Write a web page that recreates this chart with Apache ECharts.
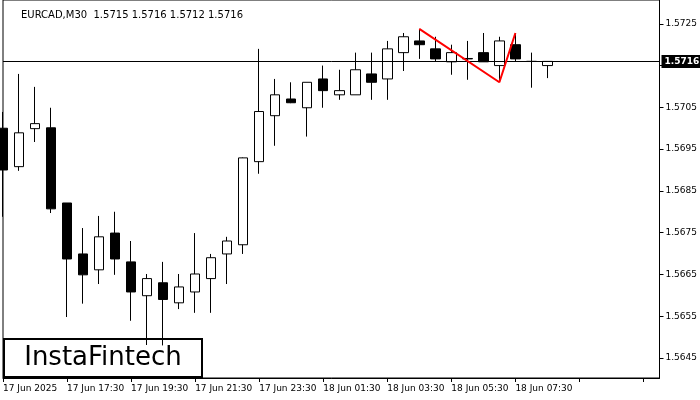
<!DOCTYPE html>
<html><head><meta charset="utf-8">
<script src="https://cdn.jsdelivr.net/npm/echarts@6/dist/echarts.min.js"></script>
<style>html,body{margin:0;padding:0;background:#fff}#c{width:700px;height:400px}</style>
</head><body><div id="c"></div>
<script>
const times = ['17 Jun 2025','16:00','16:30','17:00','17 Jun 17:30','18:00','18:30','19:00','17 Jun 19:30','20:00','20:30','21:00','17 Jun 21:30','22:00','22:30','23:00','17 Jun 23:30','00:00','00:30','01:00','18 Jun 01:30','02:00','02:30','03:00','18 Jun 03:30','04:00','04:30','05:00','18 Jun 05:30','06:00','06:30','07:00','18 Jun 07:30','08:00','08:30','09:00','09:30','10:00','10:30','11:00','11:30','12:00'];
// [open, close, low, high]
const ohlc = [
[1.57000,1.56900,1.56788,1.57039],
[1.56908,1.56989,1.56898,1.57130],
[1.56999,1.57011,1.56967,1.57099],
[1.57001,1.56807,1.56797,1.57049],
[1.56821,1.56687,1.56548,1.56821],
[1.56699,1.56649,1.56580,1.56761],
[1.56661,1.56740,1.56627,1.56790],
[1.56749,1.56687,1.56649,1.56800],
[1.56680,1.56608,1.56539,1.56730],
[1.56599,1.56640,1.56481,1.56651],
[1.56630,1.56590,1.56480,1.56680],
[1.56582,1.56620,1.56567,1.56651],
[1.56608,1.56651,1.56558,1.56749],
[1.56640,1.56690,1.56558,1.56699],
[1.56699,1.56730,1.56627,1.56740],
[1.56721,1.56929,1.56699,1.56930],
[1.56920,1.57040,1.56891,1.57190],
[1.57030,1.57080,1.56958,1.57118],
[1.57070,1.57061,1.57060,1.57110],
[1.57049,1.57110,1.56980,1.57110],
[1.57118,1.57090,1.57049,1.57150],
[1.57080,1.57090,1.57068,1.57140],
[1.57080,1.57140,1.57080,1.57181],
[1.57130,1.57110,1.57068,1.57181],
[1.57118,1.57190,1.57068,1.57209],
[1.57181,1.57219,1.57137,1.57228],
[1.57209,1.57200,1.57166,1.57238],
[1.57190,1.57166,1.57159,1.57219],
[1.57159,1.57181,1.57128,1.57200],
[1.57166,1.57167,1.57116,1.57209],
[1.57181,1.57159,1.57159,1.57228],
[1.57150,1.57209,1.57111,1.57219],
[1.57200,1.57166,1.57159,1.57228],
[1.57160,1.57160,1.57097,1.57181],
[1.57150,1.57160,1.57120,1.57160]
];
const patternX = [26, 31, 32];
const patternY = [1.57238, 1.57110, 1.57228];
const priceTicks = [1.5725,1.5715,1.5705,1.5695,1.5685,1.5675,1.5665,1.5655,1.5645];
const lastPrice = 1.5716;

const chart = echarts.init(document.getElementById('c'));
chart.setOption({
  animation:false,
  backgroundColor:'#fff',
  title:{text:'EURCAD,M30  1.5715 1.5716 1.5712 1.5716',left:16,top:5,textStyle:{fontSize:10,fontWeight:'normal',color:'#000',fontFamily:'DejaVu Sans'}},
  grid:{left:0,right:38,top:0,bottom:22,show:true,borderColor:'#000',borderWidth:1},
  xAxis:{type:'category',data:times,boundaryGap:false,
    axisLine:{lineStyle:{color:'#000'}},
    axisTick:{show:true,interval:3,length:4,lineStyle:{color:'#000'}},
    axisLabel:{interval:3,align:'left',color:'#000',fontSize:9,fontFamily:'DejaVu Sans',margin:6,
      formatter:v=>v.indexOf('Jun')>=0?v:''},
    splitLine:{show:false}},
  yAxis:{type:'value',position:'right',min:1.56402,max:1.57307,scale:true,
    axisLine:{show:true,lineStyle:{color:'#000'}},
    axisTick:{show:true,customValues:priceTicks,length:4,lineStyle:{color:'#000'}},
    axisLabel:{customValues:priceTicks,color:'#000',fontSize:9,fontFamily:'DejaVu Sans',margin:6,formatter:v=>v.toFixed(4)},
    splitLine:{show:false}},
  series:[
    {type:'candlestick',data:ohlc,barWidth:10,
      itemStyle:{color:'#fff',color0:'#000',borderColor:'#000',borderColor0:'#000',borderWidth:1}},
    {type:'line',data:patternX.map((x,i)=>[x,patternY[i]]),symbol:'none',lineStyle:{color:'#ff0000',width:2},z:5,
      markLine:{symbol:'none',silent:true,animation:false,precision:4,
        lineStyle:{color:'#000',width:1,type:'solid'},
        label:{show:true,position:'end',formatter:lastPrice.toFixed(4),backgroundColor:'#000',color:'#fff',fontSize:9,fontFamily:'DejaVu Sans',fontWeight:'bold',padding:[2,3],distance:2},
        data:[{yAxis:lastPrice}]}}
  ],
  graphic:[{type:'group',left:3,bottom:22,children:[
    {type:'rect',shape:{x:0,y:0,width:198,height:38},style:{fill:'#fff',stroke:'#000',lineWidth:2}},
    {type:'text',x:99,y:19,style:{text:'InstaFintech',font:'26px "DejaVu Sans"',fill:'#000',align:'center',verticalAlign:'middle'}}
  ]}]
});
</script></body></html>
